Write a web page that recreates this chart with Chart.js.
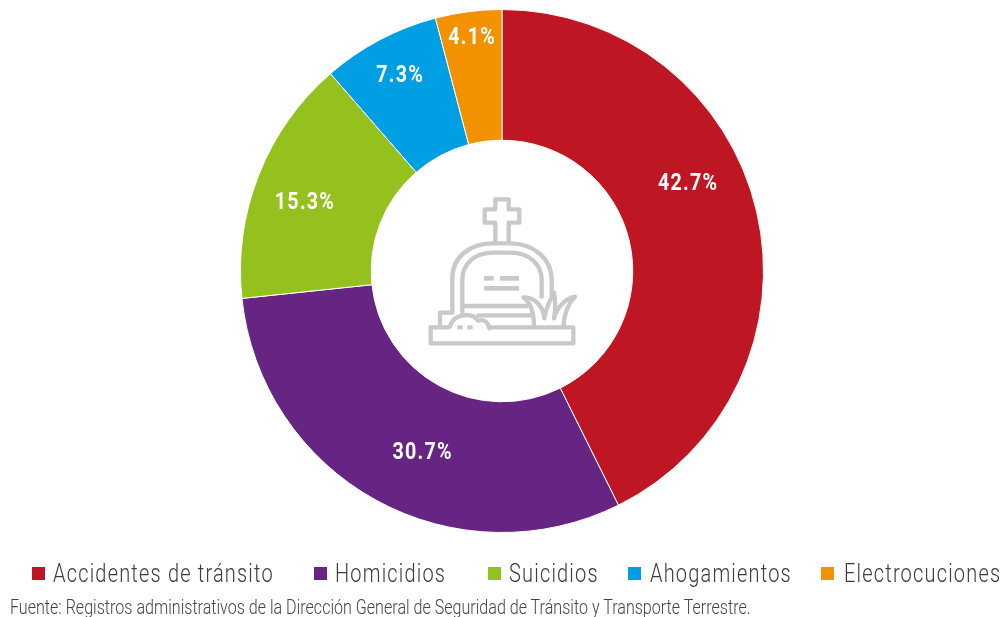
<!DOCTYPE html>
<html><head><meta charset="utf-8">
<script src="https://cdn.jsdelivr.net/npm/chart.js@4/dist/chart.umd.min.js"></script>
<style>
html,body{margin:0;padding:0;background:#fff;overflow:hidden}
#wrap{position:relative;width:1005px;height:617px;font-family:Roboto,sans-serif}
canvas{position:absolute;left:0;top:0}
svg{position:absolute;left:410px;top:180px}
.sq{position:absolute;width:13px;height:13px;top:567px}
.t{position:absolute;white-space:nowrap;transform-origin:0 50%;color:#3c3c3c;font-weight:300}
</style></head><body>
<div id="wrap">
<canvas id="c" width="1005" height="617"></canvas>
<svg width="190" height="180" viewBox="0 0 570 540" fill="none" stroke="#c9c9c9" stroke-width="13" stroke-linejoin="round" stroke-linecap="round">
<path d="M256 185V128H224V88H256V58H296V88H328V128H296V185"/>
<path d="M127 395V295C127 230 180 190 250 190H300C370 190 425 235 425 300V345"/>
<path d="M157 395V300C157 250 195 218 250 218H300C355 218 395 250 395 300V350"/>
<path d="M160 378H350M205 406H365"/>
<path d="M127 398H90V440M115 442H62V490H490V442H240"/>
<path d="M120 440C125 415 150 405 170 405C190 405 200 415 205 422C225 415 235 430 238 445"/>
<path d="M372 440C372 400 365 370 340 352C375 350 400 380 403 415C405 390 420 360 432 338C438 370 435 400 432 415C440 385 465 355 495 350C470 375 462 405 460 440"/>
<g fill="#c9c9c9" stroke="none"><rect x="222" y="288" width="29" height="14"/><rect x="270" y="288" width="57" height="14"/><rect x="222" y="318" width="105" height="14"/><rect x="142" y="436" width="16" height="12"/><rect x="172" y="436" width="16" height="12"/></g>
</svg>
</div>
<script>
const categories=["Accidentes de tránsito","Homicidios","Suicidios","Ahogamientos","Electrocuciones"];
const values=[42.7,30.7,15.3,7.3,4.1];
const colors=["#BE1622","#662483","#95C11F","#009FE3","#F39200"];
const sourceText="Fuente: Registros administrativos de la Dirección General de Seguridad de Tránsito y Transporte Terrestre.";
const legendSquareX=[32,314,488,628,821];
const legendTextX=[53,335,509,650,844];
const labelShiftDeg=[-12.2,-5,-2,0.4,0.1];
const labelRadius=[206,197,209,221,236];

const wrap=document.getElementById('wrap');
function addText(str,x,cy,size,sx,ls){
  const s=document.createElement('div');s.className='t';s.textContent=str;
  s.style.left=x+'px';s.style.fontSize=size+'px';s.style.lineHeight='26px';s.style.top=(cy-13)+'px';
  s.style.transform='scaleX('+sx+')';s.style.letterSpacing=ls+'px';wrap.appendChild(s);return s;
}
categories.forEach((c,i)=>{
  const q=document.createElement('div');q.className='sq';q.style.left=legendSquareX[i]+'px';q.style.background=colors[i];wrap.appendChild(q);
  addText(c,legendTextX[i],574,25,0.8,1.48);
});
addText(sourceText,10,607,20,0.804,0).style.color='#444';

const labelPlugin={id:'pct',afterDatasetsDraw(chart){
  const ctx=chart.ctx,meta=chart.getDatasetMeta(0);
  ctx.save();ctx.fillStyle='#fff';ctx.font='700 24px Roboto';ctx.textAlign='center';ctx.textBaseline='middle';
  ctx.letterSpacing='1.5px';
  meta.data.forEach((a,i)=>{
    const mid=(a.startAngle+a.endAngle)/2+labelShiftDeg[i]*Math.PI/180;
    const x=a.x+labelRadius[i]*Math.cos(mid),y=a.y+labelRadius[i]*Math.sin(mid)+1.5;
    ctx.save();ctx.translate(x,y);ctx.scale(0.82,1);ctx.fillText(values[i].toFixed(1)+'%',0,0);ctx.restore();
  });
  ctx.restore();
}};
new Chart(document.getElementById('c'),{
  type:'doughnut',
  data:{labels:categories,datasets:[{data:values,backgroundColor:colors,borderColor:'#fff',borderWidth:1}]},
  options:{responsive:false,animation:false,cutout:'50%',
    layout:{padding:{left:0,right:1,top:9,bottom:84}},
    plugins:{legend:{display:false},tooltip:{enabled:false}}},
  plugins:[labelPlugin]
});
</script>
</body></html>
